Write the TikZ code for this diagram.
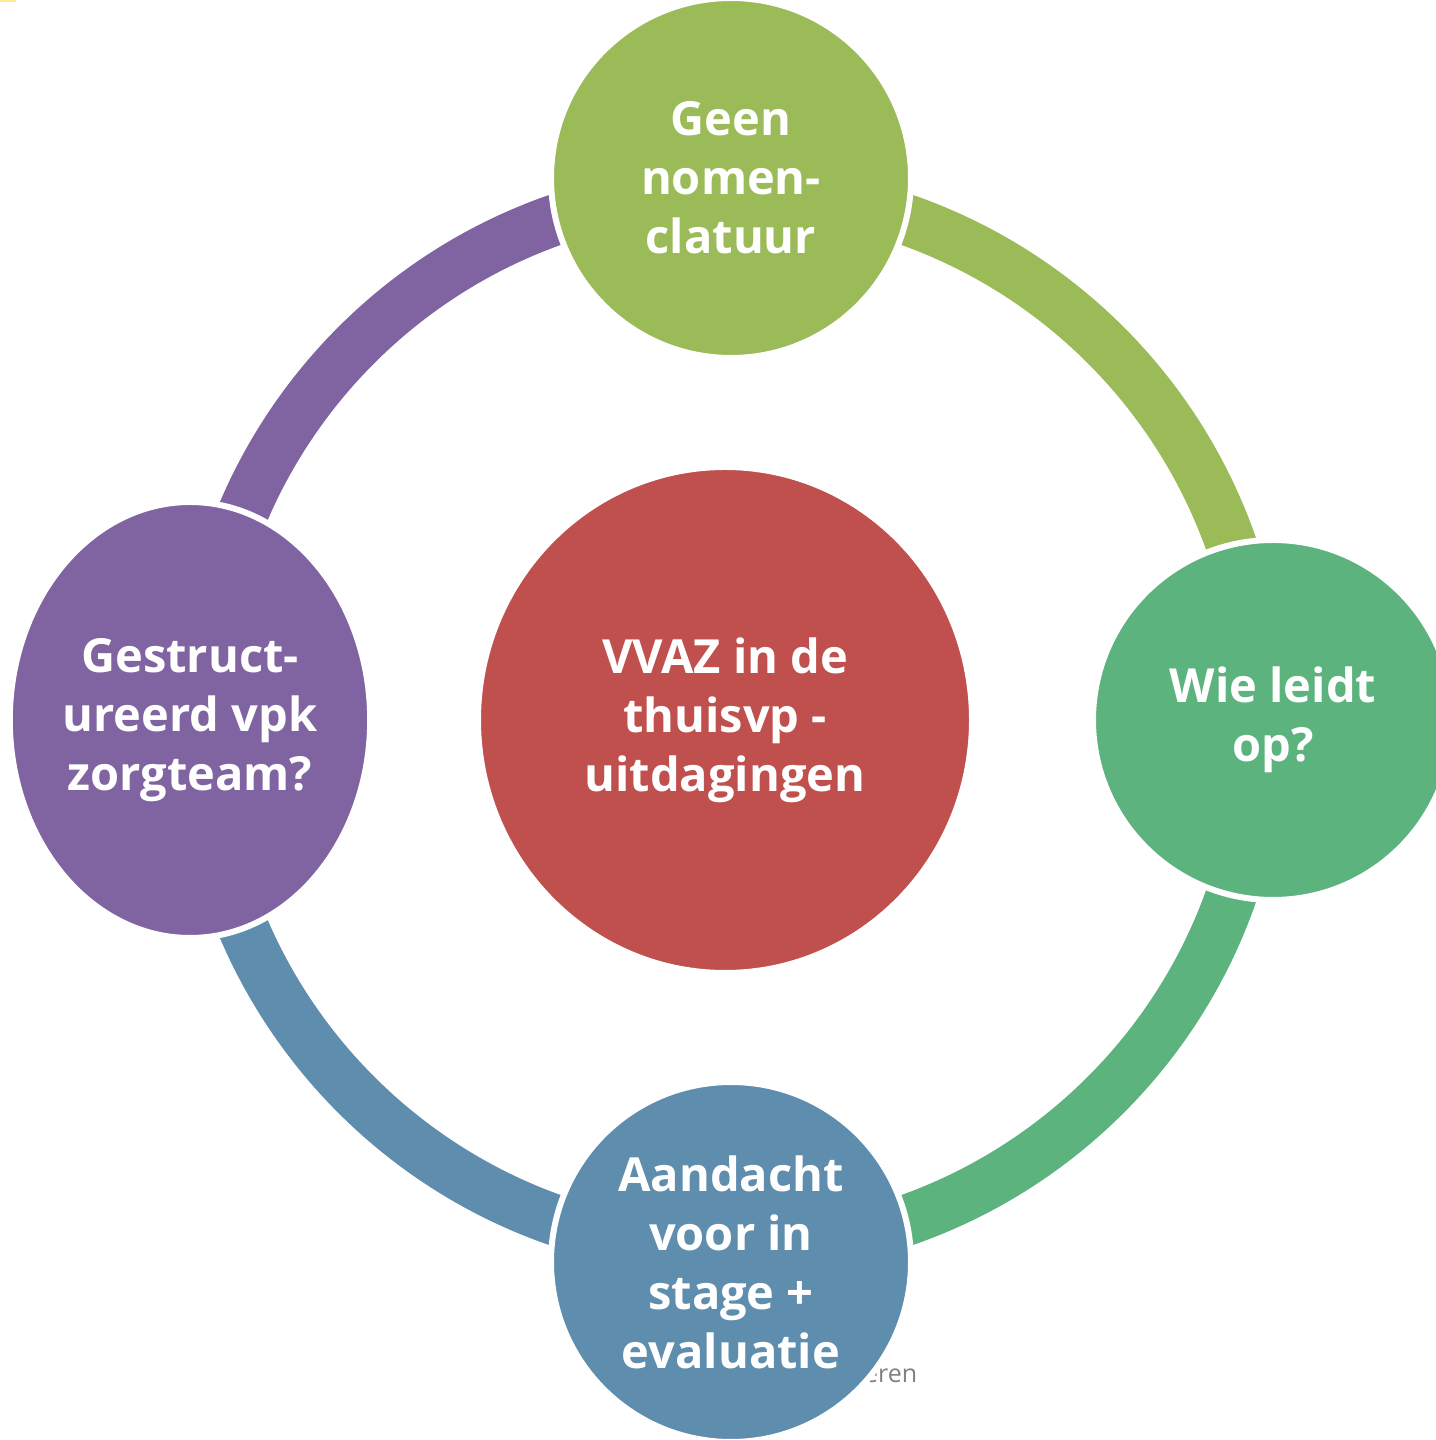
\documentclass[tikz,border=0pt]{standalone}
\usepackage{fontspec}
\setmainfont{Open Sans}
\usetikzlibrary{shapes.geometric,calc}
\definecolor{cOlive}{HTML}{9BBB59}
\definecolor{cGreen}{HTML}{5DB37E}
\definecolor{cBlue}{HTML}{5F8DAD}
\definecolor{cPurple}{HTML}{8064A2}
\definecolor{cRed}{HTML}{C0504D}
\definecolor{cGray}{HTML}{7F7F7F}
\tikzset{
  ring/.style={line width=51pt},
  bubble/.style={circle, draw=white, line width=6pt, minimum size=360pt, inner sep=0pt,
    text=white, align=center, font=\bfseries\fontsize{47}{59}\selectfont},
  oval/.style={ellipse, draw=white, line width=6pt, inner sep=0pt,
    text=white, align=center, font=\bfseries\fontsize{47}{59}\selectfont},
  note/.style={text=cGray, font=\fontsize{25}{30}\selectfont, inner sep=0pt}
}
\begin{document}
\begin{tikzpicture}[x=1pt,y=1pt]
\useasboundingbox (0,0) rectangle (1435,1440);
\fill[yellow!60!orange!40] (0,1438) rectangle (16,1440);
\coordinate (c) at (731,720);
% ring coordinates
\coordinate (rT) at ($(c)+(90:530)$);
\coordinate (rR) at ($(c)+(0:530)$);
\coordinate (rB) at ($(c)+(-90:530)$);
\coordinate (rL) at ($(c)+(180:530)$);
\draw[ring, cOlive] (rT) arc[start angle=90, end angle=0, radius=530];
\draw[ring, cGreen] (rR) arc[start angle=0, end angle=-90, radius=530];
\draw[ring, cBlue] (rB) arc[start angle=-90, end angle=-180, radius=530];
\draw[ring, cPurple] (rL) arc[start angle=180, end angle=90, radius=530];
% hidden footer text
\node[note, anchor=base east] (n1) at (603,1440-1383) {V};
\node[note, anchor=base west] (n2) at (864,1440-1383) {eren};
% nodes
\node[oval, fill=cRed, minimum width=494pt, minimum height=506pt] (center) at (725,720)
  {VVAZ in de\\thuisvp -\\uitdagingen};
\node[bubble, fill=cOlive] (top) at (731,1440-178) {Geen\\nomen-\\clatuur};
\node[bubble, fill=cGreen] (right) at (1273,720) {Wie leidt\\op?};
\node[bubble, fill=cBlue] (bottom) at (731,1440-1262) {Aandacht\\voor in\\stage +\\evaluatie};
\node[oval, fill=cPurple, minimum width=358pt, minimum height=436pt] (left) at (190,720)
  {Gestruct-\\ureerd vpk\\zorgteam?};
\end{tikzpicture}
\end{document}
